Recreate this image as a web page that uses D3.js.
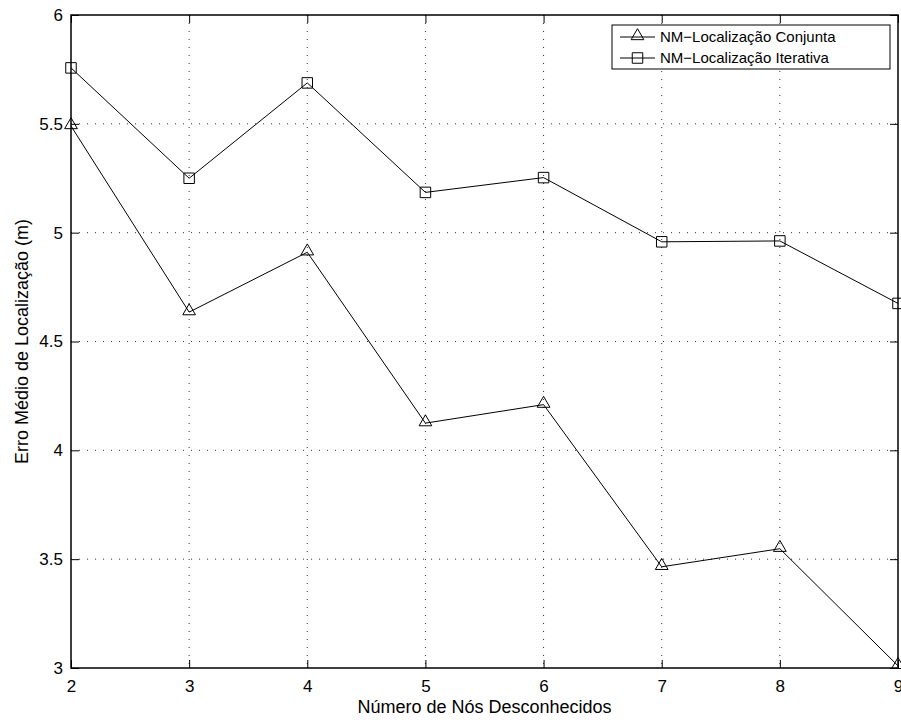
<!DOCTYPE html>
<html><head><meta charset="utf-8">
<script src="https://cdn.jsdelivr.net/npm/d3@7"></script>
<style>body{margin:0;background:#fff}svg{display:block}text{font-family:"Liberation Sans",Arial,sans-serif;fill:#000}</style>
</head><body>
<svg id="c" width="901" height="722"></svg>
<script>
const xValues = [2,3,4,5,6,7,8,9];
const conjunta = [5.49,4.635,4.91,4.125,4.21,3.465,3.548,3.01];
const iterativa = [5.757,5.25,5.688,5.185,5.253,4.958,4.962,4.675];
const xTicks = [2,3,4,5,6,7,8,9];
const yTicks = [3,3.5,4,4.5,5,5.5,6];
const seriesNames = ["NM\u2212Localização Conjunta","NM\u2212Localização Iterativa"];

const svg = d3.select("#c");
const L=71, R=898, T=15, B=668;
const x = d3.scaleLinear().domain([2,9]).range([L,R]);
const y = d3.scaleLinear().domain([3,6]).range([B,T]);
const g = svg.append("g");

// grid
g.selectAll(".gx").data(xTicks.slice(1,-1)).enter().append("line")
 .attr("x1",d=>x(d)).attr("x2",d=>x(d)).attr("y1",T).attr("y2",B)
 .attr("stroke","#000").attr("stroke-width",0.8).attr("stroke-dasharray","1,7");
g.selectAll(".gy").data(yTicks.slice(1,-1)).enter().append("line")
 .attr("y1",d=>y(d)).attr("y2",d=>y(d)).attr("x1",L).attr("x2",R)
 .attr("stroke","#000").attr("stroke-width",0.8).attr("stroke-dasharray","1,7");

// axes
const ax = d3.axisBottom(x).tickValues(xTicks).tickSizeInner(-8).tickSizeOuter(0).tickPadding(12).tickFormat(d3.format("d"));
const axT = d3.axisTop(x).tickValues(xTicks).tickSizeInner(-8).tickSizeOuter(0).tickFormat("");
const ay = d3.axisLeft(y).tickValues(yTicks).tickSizeInner(-8).tickSizeOuter(0).tickPadding(8).tickFormat(d=>String(d));
const ayR = d3.axisRight(y).tickValues(yTicks).tickSizeInner(-8).tickSizeOuter(0).tickFormat("");
function style(sel){sel.selectAll("path").remove();sel.selectAll("line").attr("stroke","#000");sel.selectAll("text").attr("font-size",17).attr("font-family","Liberation Sans, Arial, sans-serif");}
g.append("g").attr("transform",`translate(0,${B})`).call(ax).call(style);
g.append("g").attr("transform",`translate(0,${T})`).call(axT).call(style);
g.append("g").attr("transform",`translate(${L},0)`).call(ay).call(style);
g.append("g").attr("transform",`translate(${R},0)`).call(ayR).call(style);
g.append("rect").attr("x",L).attr("y",T).attr("width",R-L).attr("height",B-T).attr("fill","none").attr("stroke","#000").attr("stroke-width",1.5);

// lines
const line = d3.line().x((d,i)=>x(xValues[i])).y(d=>y(d));
[conjunta,iterativa].forEach(s=>{
  g.append("path").datum(s).attr("d",line).attr("fill","none").attr("stroke","#000").attr("stroke-width",1);
});
const tri = d3.symbol().type(d3.symbolTriangle).size(70);
const sq = d3.symbol().type(d3.symbolSquare).size(110);
g.selectAll(".t").data(conjunta).enter().append("path").attr("d",tri)
 .attr("transform",(d,i)=>`translate(${x(xValues[i])},${y(d)-1})`).attr("fill","none").attr("stroke","#000").attr("stroke-width",1);
g.selectAll(".s").data(iterativa).enter().append("path").attr("d",sq)
 .attr("transform",(d,i)=>`translate(${x(xValues[i])},${y(d)})`).attr("fill","none").attr("stroke","#000").attr("stroke-width",1);

// legend
const lg = svg.append("g");
lg.append("rect").attr("x",612).attr("y",25).attr("width",278).attr("height",44).attr("fill","#fff").attr("stroke","#000").attr("stroke-width",1);
[0,1].forEach(i=>{
  const yy = 37 + i*21;
  lg.append("line").attr("x1",620).attr("x2",655).attr("y1",yy).attr("y2",yy).attr("stroke","#000");
  lg.append("path").attr("d", i===0?tri:sq).attr("transform",`translate(637.5,${yy-(i===0?1:0)})`).attr("fill","none").attr("stroke","#000");
  lg.append("text").attr("x",660).attr("y",yy).attr("dy","0.35em").attr("font-size",15).text(seriesNames[i]);
});

// axis labels
svg.append("text").attr("x",(L+R)/2).attr("y",713).attr("text-anchor","middle").attr("font-size",18).text("Número de Nós Desconhecidos");
svg.append("text").attr("transform",`translate(28,${(T+B)/2}) rotate(-90)`).attr("text-anchor","middle").attr("font-size",18).text("Erro Médio de Localização (m)");
</script>
</body></html>
